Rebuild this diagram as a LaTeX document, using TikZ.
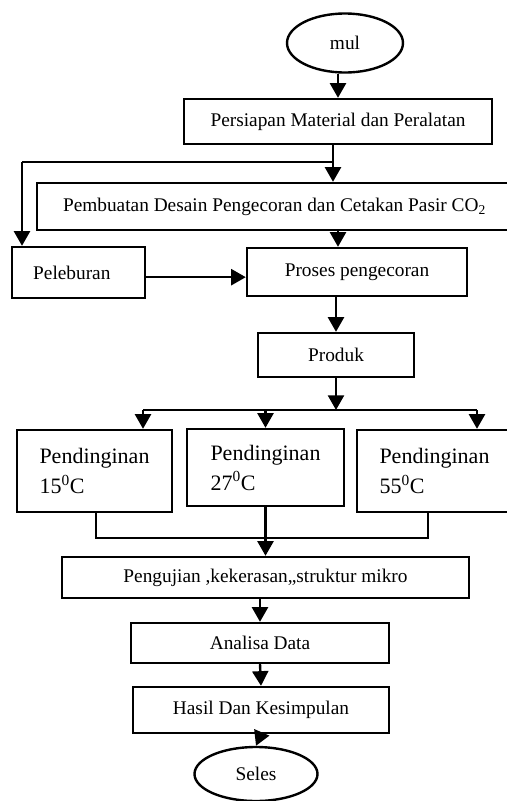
\documentclass[tikz,border=0pt]{standalone}
\usepackage{fontspec}
\setmainfont{Liberation Serif}
\usepackage{tikz}
\usetikzlibrary{arrows.meta}
\usetikzlibrary{shapes.geometric}

\begin{document}
\begin{tikzpicture}[x=0.75pt,y=-0.75pt]
\tikzset{>={Triangle[width=12pt,length=11pt]}}
\tikzstyle{link} =[line width=1.8pt]
\tikzstyle{box} =[rectangle, draw, link, inner sep=0pt, font=\fontsize{14.5}{17}\selectfont]
\tikzstyle{term} =[ellipse, draw, link, inner sep=0pt, font=\fontsize{14.5}{17}\selectfont]
\tikzstyle{cool} =[box, align=left, font=\fontsize{16.5}{22.5}\selectfont]

\useasboundingbox (0,0) rectangle (507,801);

\node[term, minimum width=87pt, minimum height=44.25pt] (start) at (345,43) {mul};
\node[box, minimum width=231pt, minimum height=33.75pt] (prep) at (338,121.5) {Persiapan Material dan Peralatan};
\node[box, minimum width=356.25pt, minimum height=35.25pt] (design) at (274.5,206.5) {Pembuatan Desain Pengecoran dan Cetakan Pasir CO\textsubscript{2}};
\node[box, minimum width=99.75pt, minimum height=38.25pt] (melt) at (78.5,272.5) {Peleburan\hspace*{10pt}};
\node[box, minimum width=165pt, minimum height=36pt] (cast) at (357,272) {Proses pengecoran};
\node[box, minimum width=117pt, minimum height=33pt] (prod) at (336,355) {Produk};
\node[cool, minimum width=116.25pt, minimum height=61.5pt] (c15) at (94.5,471) {Pendinginan\\15\textsuperscript{0}C};
\node[cool, minimum width=117.75pt, minimum height=57.75pt] (c27) at (265.5,467.5) {Pendinginan\\27\textsuperscript{0}C};
\node[cool, minimum width=116.25pt, minimum height=61.5pt] (c55) at (434.5,471) {Pendinginan\\55\textsuperscript{0}C};
\node[box, minimum width=305.25pt, minimum height=30.75pt] (test) at (265.5,577.5) {Pengujian ,kekerasan,,struktur mikro};
\node[box, minimum width=193.5pt, minimum height=30pt] (anal) at (260,643) {Analisa Data};
\node[box, minimum width=192pt, minimum height=34.5pt] (concl) at (261,710) {Hasil Dan Kesimpulan};
\node[term, minimum width=92.25pt, minimum height=40.5pt] (finish) at (256,774) {Seles};

\coordinate (split) at (333,162);
\coordinate (bend) at (22,162);
\coordinate (fork) at (336,410);
\coordinate (forkL) at (143,410);
\coordinate (forkR) at (477,410);
\coordinate (joinL) at (96,538);
\coordinate (joinR) at (428,538);

\draw [->,link] (prep.north |- start.south) -- (prep.north);
\draw [link] (prep.south -| split) -- (split) -- (bend);
\draw [->,link] (bend) -- (bend |- melt.north);
\draw [->,link] (split) -- (split |- design.north);
\draw [->,link] (design.south -| prep.south) -- (cast.north -| prep.south);
\draw [->,link] ([yshift=-3.5pt]melt.east) -- ([yshift=-3.5pt]melt.east -| cast.west);
\draw [->,link] (prod.north |- cast.south) -- (prod.north);
\draw [->,link] (prod.south) -- (fork);
\draw [link] (forkL) -- (forkR);
\draw [->,link] (forkL) -- (forkL |- c15.north);
\draw [->,link] (c27.north |- fork) -- (c27.north);
\draw [->,link] (forkR) -- (forkR |- c55.north);
\draw [link] (c15.south -| joinL) -- (joinL) -- (joinR) -- (c55.south -| joinR);
\draw [->,link] (c27.south) -- (c27.south |- test.north);
\draw [->,link] (anal.north |- test.south) -- (anal.north);
\draw [->,link] (anal.south) -- (concl.north);
\draw [->,link] (concl.south) -- (finish.north);
\end{tikzpicture}
\end{document}
